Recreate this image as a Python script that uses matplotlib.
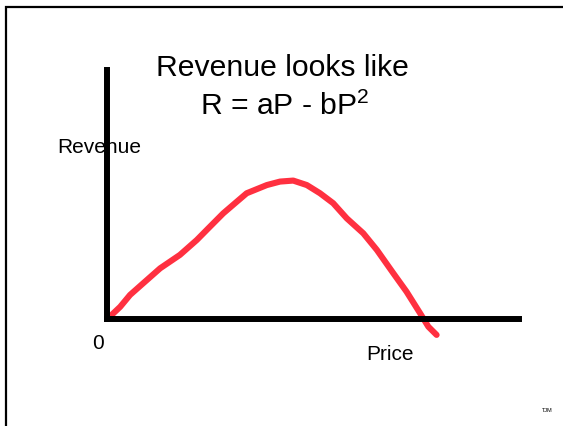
import matplotlib.pyplot as plt
from matplotlib.patches import Rectangle

plt.rcParams["font.family"] = ["Liberation Sans", "DejaVu Sans"]

W, H = 563, 426

# hand-drawn revenue curve, price vs revenue (arbitrary units)
price = [0.11, 0.32, 0.56, 0.88, 1.29, 1.77, 2.18, 2.46, 2.82, 3.15, 3.39, 3.88, 4.20,
         4.52, 4.85, 5.17, 5.49, 5.82, 6.22, 6.55, 6.95, 7.27, 7.60, 7.80, 8.00]
revenue = [0.14, 0.47, 0.95, 1.42, 2.02, 2.56, 3.16, 3.63, 4.23, 4.70, 5.04, 5.37, 5.51,
           5.55, 5.37, 5.04, 4.64, 4.03, 3.43, 2.76, 1.82, 1.08, 0.21, -0.33, -0.66]

title_lines = ["Revenue looks like", r"R = aP - bP$\mathregular{^2}$"]


def fx(px):
    return px / W


def fy(py):
    return 1 - py / H


fig = plt.figure(figsize=(W / 100, H / 100), dpi=100)

# slide frame
fig.patches.append(Rectangle((fx(5.5), fy(600)), fx(700), fy(6.5) - fy(600),
                             transform=fig.transFigure, fill=False,
                             edgecolor="black", linewidth=1.6))

ax = fig.add_axes([fx(107), fy(318.5), fx(519) - fx(107), fy(70) - fy(318.5)])
ax.set_xlim(0, 10)
ax.set_ylim(0, 10)
for side in ("top", "right"):
    ax.spines[side].set_visible(False)
for side in ("left", "bottom"):
    ax.spines[side].set_linewidth(4.3)
    ax.spines[side].set_capstyle("projecting")
ax.set_xticks([])
ax.set_yticks([])
ax.patch.set_visible(False)

ax.plot(price, revenue, color="#ff3040", linewidth=4.4,
        solid_capstyle="round", solid_joinstyle="round", clip_on=False)

fig.text(fx(282), fy(76), title_lines[0], fontsize=21.7, ha="center", va="baseline")
fig.text(fx(285), fy(115), title_lines[1], fontsize=21.7, ha="center", va="baseline")

fig.text(fx(57), fy(153), "Revenue", fontsize=15, ha="left", va="baseline")
fig.text(fx(366), fy(360), "Price", fontsize=15, ha="left", va="baseline")
fig.text(fx(92), fy(349), "0", fontsize=15, ha="left", va="baseline")
fig.text(fx(547), fy(412), "TJM", fontsize=4, ha="center", va="baseline")

fig.savefig("out.png", dpi=100)
